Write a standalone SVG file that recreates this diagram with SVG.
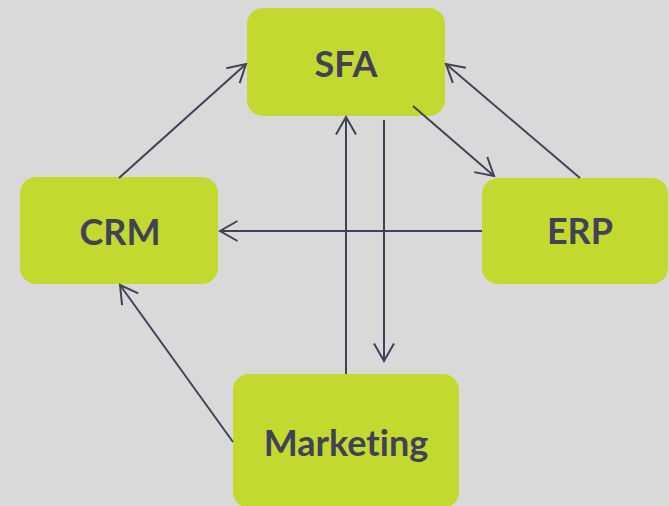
<svg xmlns="http://www.w3.org/2000/svg" width="669" height="506" viewBox="0 0 669 506">
<style>
.box{fill:#c3d92f;}
.lbl{font-family:Lato,"Open Sans","Liberation Sans",sans-serif;font-weight:bold;font-size:36px;fill:#414257;text-anchor:middle;font-variant-ligatures:none;}
.edge{stroke:#414257;stroke-width:2;fill:none;marker-end:url(#arr);}
</style>
<defs>
<marker id="arr" markerUnits="userSpaceOnUse" markerWidth="40" markerHeight="40" refX="0" refY="0" orient="auto" viewBox="-20 -20 40 40" overflow="visible">
<path d="M -17.5 -10 L 0 0 L -17.5 10" fill="none" stroke="#414257" stroke-width="2"/>
</marker>
</defs>
<rect width="669" height="506" fill="#d9d9d9"/>
<g id="node-sfa">
<rect class="box" x="247" y="8" width="198" height="108" rx="16"/>
<text class="lbl" x="346" y="77">SFA</text>
</g>
<g id="node-crm">
<rect class="box" x="20" y="177" width="198" height="107" rx="16"/>
<text class="lbl" x="120" y="245">CRM</text>
</g>
<g id="node-erp">
<rect class="box" x="482" y="178" width="186" height="106" rx="16"/>
<text class="lbl" x="580" y="244">ERP</text>
</g>
<g id="node-marketing">
<rect class="box" x="233" y="374" width="226" height="134" rx="16"/>
<text class="lbl" x="346" y="456">Marketing</text>
</g>
<g id="connectors">
<line class="edge" x1="119" y1="178" x2="246" y2="64"/>
<line class="edge" x1="413" y1="106" x2="494" y2="176"/>
<line class="edge" x1="580" y1="178" x2="446" y2="64"/>
<line class="edge" x1="482" y1="231" x2="220" y2="231"/>
<line class="edge" x1="346" y1="374" x2="346" y2="117"/>
<line class="edge" x1="384" y1="120" x2="384" y2="361"/>
<line class="edge" x1="233" y1="442" x2="120" y2="285"/>
</g>
</svg>
